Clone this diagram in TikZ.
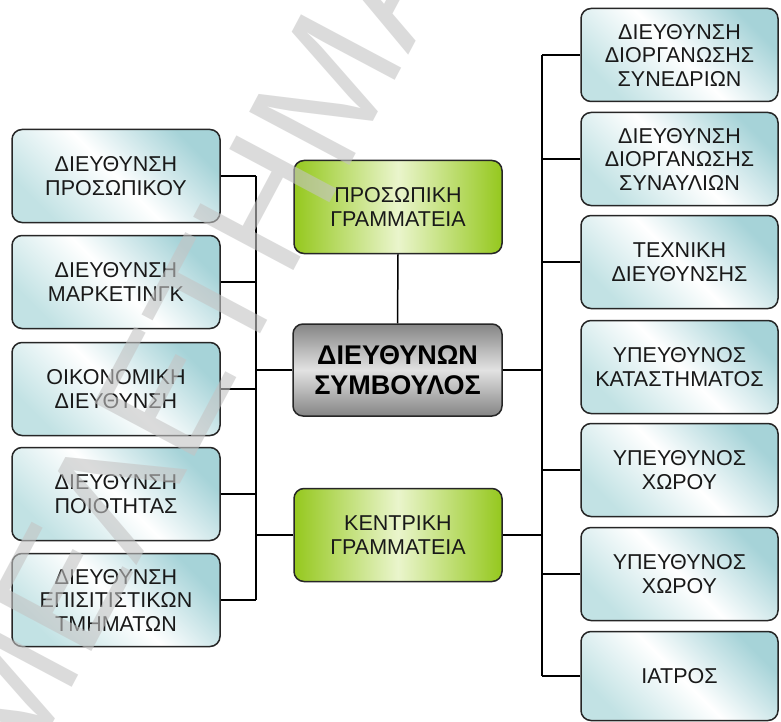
\documentclass[tikz,border=0pt]{standalone}
\usepackage{fontspec}
\setmainfont{Liberation Sans}
\definecolor{tealA}{HTML}{A6D3D8}
\definecolor{tealB}{HTML}{C2E2E4}
\definecolor{greenA}{HTML}{95C81E}
\definecolor{greenM}{HTML}{EAF5CC}
\definecolor{grayA}{HTML}{858585}
\definecolor{grayM}{HTML}{E2E2E2}
\definecolor{wmark}{HTML}{C4C4C4}
\begin{document}
\begin{tikzpicture}[x=1pt,y=-1pt,
  box/.style={draw=black!85, line width=1.5pt, rounded corners=10pt, minimum height=93pt,
    align=center, font=\fontsize{21.5}{23.5}\selectfont, text=black!90, inner sep=0pt},
  bluebox/.style={box, minimum width=208pt, left color=tealA, right color=tealB, middle color=white, shading angle=-45},
  rbluebox/.style={bluebox, minimum width=197pt},
  greenbox/.style={box, minimum width=208pt, left color=greenA, right color=greenA, middle color=greenM},
  ceobox/.style={box, minimum width=209pt, minimum height=92pt, top color=grayA, bottom color=grayA, middle color=grayM,
    font=\fontsize{27}{30}\selectfont\bfseries, text=black},
  link/.style={line width=1.5pt, black}
]
\useasboundingbox (0,0) rectangle (781,722);
\fill[white] (0,0) rectangle (781,722);

% left column
\node[bluebox] (L1) at (116,176) {ΔΙΕΥΘΥΝΣΗ\\ΠΡΟΣΩΠΙΚΟΥ};
\node[bluebox] (L2) at (116,282) {ΔΙΕΥΘΥΝΣΗ\\ΜΑΡΚΕΤΙΝΓΚ};
\node[bluebox] (L3) at (116,389) {ΟΙΚΟΝΟΜΙΚΗ\\ΔΙΕΥΘΥΝΣΗ};
\node[bluebox] (L4) at (116,494) {ΔΙΕΥΘΥΝΣΗ\\ΠΟΙΟΤΗΤΑΣ};
\node[bluebox] (L5) at (116,600) {ΔΙΕΥΘΥΝΣΗ\\ΕΠΙΣΙΤΙΣΤΙΚΩΝ\\ΤΜΗΜΑΤΩΝ};

% middle column
\node[greenbox] (PG) at (398,207) {ΠΡΟΣΩΠΙΚΗ\\ΓΡΑΜΜΑΤΕΙΑ};
\node[ceobox] (CEO) at (397.5,370) {ΔΙΕΥΘΥΝΩΝ\\ΣΥΜΒΟΥΛΟΣ};
\node[greenbox] (KG) at (398,535) {ΚΕΝΤΡΙΚΗ\\ΓΡΑΜΜΑΤΕΙΑ};

% right column
\node[rbluebox] (R1) at (679.5,55) {ΔΙΕΥΘΥΝΣΗ\\ΔΙΟΡΓΑΝΩΣΗΣ\\ΣΥΝΕΔΡΙΩΝ};
\node[rbluebox] (R2) at (679.5,159) {ΔΙΕΥΘΥΝΣΗ\\ΔΙΟΡΓΑΝΩΣΗΣ\\ΣΥΝΑΥΛΙΩΝ};
\node[rbluebox] (R3) at (679.5,262) {ΤΕΧΝΙΚΗ\\ΔΙΕΥΘΥΝΣΗΣ};
\node[rbluebox] (R4) at (679.5,367) {ΥΠΕΥΘΥΝΟΣ\\ΚΑΤΑΣΤΗΜΑΤΟΣ};
\node[rbluebox] (R5) at (679.5,470) {ΥΠΕΥΘΥΝΟΣ\\ΧΩΡΟΥ};
\node[rbluebox] (R6) at (679.5,574) {ΥΠΕΥΘΥΝΟΣ\\ΧΩΡΟΥ};
\node[rbluebox, minimum height=89pt] (R7) at (679.5,676) {ΙΑΤΡΟΣ};

% buses
\coordinate (lbus) at (256,0);
\coordinate (rbus) at (542,0);

% left connectors
\foreach \n in {L1,L2,L3,L4,L5}
  \draw[link] (\n.east) -- (\n.east -| lbus);
\draw[link] (L1.east -| lbus) -- (L5.east -| lbus);
\draw[link] (CEO.west) -- (CEO.west -| lbus);
\draw[link] (KG.west) -- (KG.west -| lbus);

% middle
\draw[link] (PG.south) -- (CEO.north);

% right connectors
\foreach \n in {R1,R2,R3,R5,R6,R7}
  \draw[link] (\n.west) -- (\n.west -| rbus);
\draw[link] (R1.west -| rbus) -- (R7.west -| rbus);
\draw[link] (CEO.east) -- (CEO.east -| rbus);
\draw[link] (KG.east) -- (KG.east -| rbus);

% watermark
\node[text=wmark, opacity=0.6, rotate=62, font=\fontsize{165}{165}\selectfont, inner sep=0pt] (wm) at (190,345) {ΜΕΛΕΤΗΜΑ};
\end{tikzpicture}
\end{document}
